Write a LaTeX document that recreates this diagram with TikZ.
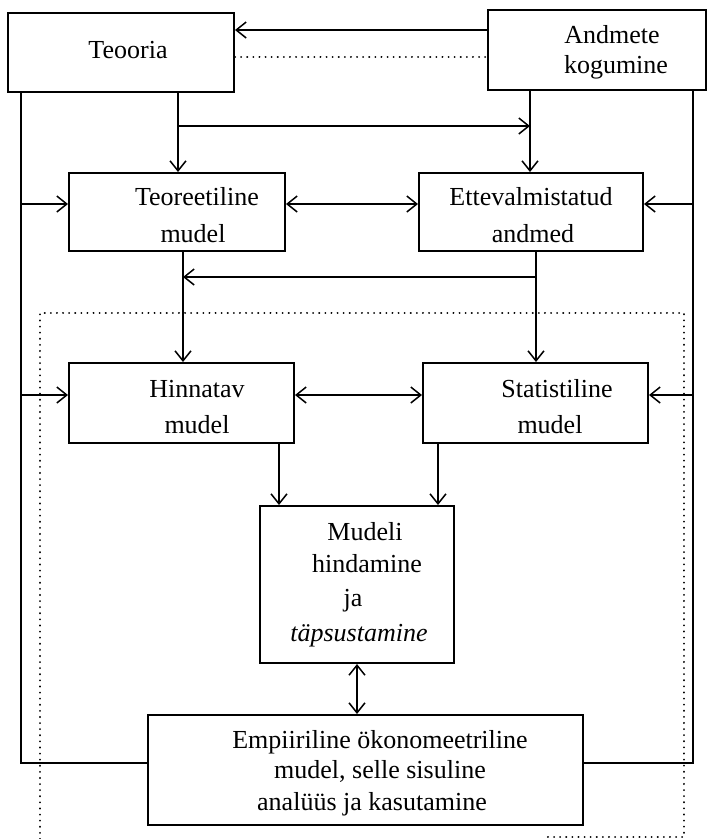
\documentclass[tikz,border=0pt]{standalone}
\usepackage{fontspec}
\setmainfont{Liberation Serif}
\usetikzlibrary{arrows.meta}
\begin{document}
\begin{tikzpicture}[x=1pt,y=-1pt,
  box/.style={draw,line width=2pt,rectangle,inner sep=0pt},
  txt/.style={anchor=base,inner sep=0pt,font=\fontsize{26}{31}\selectfont},
  ln/.style={line width=1.9pt},
  tip/.tip={Straight Barb[length=10pt,width=16pt,line width=1.5pt]},
  arr/.style={ln,-tip},
  darr/.style={ln,tip-tip},
  dot/.style={line width=2pt,line cap=round,dash pattern=on 0.1pt off 6pt}]
\useasboundingbox (0,0) rectangle (708,839);

% boxes
\node[box,minimum width=226pt,minimum height=79pt] (teooria) at (121,52.5) {};
\node[box,minimum width=218pt,minimum height=80pt] (andmete) at (597,50) {};
\node[box,minimum width=216pt,minimum height=78pt] (teor) at (177,212) {};
\node[box,minimum width=224pt,minimum height=78pt] (ette) at (531,212) {};
\node[box,minimum width=225pt,minimum height=80pt] (hinn) at (181.5,403) {};
\node[box,minimum width=225pt,minimum height=80pt] (stat) at (535.5,403) {};
\node[box,minimum width=194pt,minimum height=157pt] (mud) at (357,584.5) {};
\node[box,minimum width=435pt,minimum height=110pt] (emp) at (365.5,770) {};

% texts
\node[txt] (t-teooria) at (128,58) {Teooria};
\node[txt] (t-andm1) at (612,43) {Andmete};
\node[txt] (t-andm2) at (616,73) {kogumine};
\node[txt] (t-teor1) at (197,205) {Teoreetiline};
\node[txt] (t-teor2) at (193,242) {mudel};
\node[txt] (t-ette1) at (531,205) {Ettevalmistatud};
\node[txt] (t-ette2) at (533,242) {andmed};
\node[txt] (t-hinn1) at (197,397) {Hinnatav};
\node[txt] (t-hinn2) at (197,433) {mudel};
\node[txt] (t-stat1) at (557,397) {Statistiline};
\node[txt] (t-stat2) at (550,433) {mudel};
\node[txt] (t-mud1) at (365,540) {Mudeli};
\node[txt] (t-mud2) at (367,572) {hindamine};
\node[txt] (t-mud3) at (353,606) {ja};
\node[txt] (t-mud4) at (359,641) {\itshape täpsustamine};
\node[txt] (t-emp1) at (380,748) {Empiiriline ökonomeetriline};
\node[txt] (t-emp2) at (380,778) {mudel, selle sisuline};
\node[txt] (t-emp3) at (372,810) {analüüs ja kasutamine};

% routing levels and columns
\coordinate (yA) at (0,30);
\coordinate (yB) at (0,57);
\coordinate (yC) at (0,126);
\coordinate (yD) at (0,204);
\coordinate (yE) at (0,277);
\coordinate (yF) at (0,395);
\coordinate (yG) at (0,763);
\coordinate (xL) at (21,0);
\coordinate (xR) at (693,0);
\coordinate (xT) at (178,0);
\coordinate (xA) at (530,0);
\coordinate (xH) at (183,0);
\coordinate (xS) at (536,0);
\coordinate (xM1) at (279,0);
\coordinate (xM2) at (438,0);
\coordinate (xM) at (357,0);

% top connections
\draw[arr] (andmete.west |- yA) -- (teooria.east |- yA);
\draw[dot] (teooria.east |- yB) -- (andmete.west |- yB);
\draw[arr] (teooria.south -| xT) -- (teor.north -| xT);
\draw[arr] (xT |- yC) -- (xA |- yC);
\draw[arr] (andmete.south -| xA) -- (ette.north -| xA);

% outer feedback lines
\coordinate (lt) at (teooria.south -| xL);
\coordinate (rt) at (andmete.south -| xR);
\draw[ln] (lt) -- (xL |- yG) -- (emp.west |- yG);
\draw[ln] (rt) -- (xR |- yG) -- (emp.east |- yG);
\draw[arr] (xL |- yD) -- (teor.west |- yD);
\draw[arr] (xL |- yF) -- (hinn.west |- yF);
\draw[arr] (xR |- yD) -- (ette.east |- yD);
\draw[arr] (xR |- yF) -- (stat.east |- yF);

% middle connections
\draw[darr] (teor.east |- yD) -- (ette.west |- yD);
\draw[arr] (teor.south -| xH) -- (hinn.north -| xH);
\draw[arr] (ette.south -| xS) -- (stat.north -| xS);
\draw[arr] (xS |- yE) -- (xH |- yE);
\draw[darr] (hinn.east |- yF) -- (stat.west |- yF);
\draw[arr] (hinn.south -| xM1) -- (mud.north -| xM1);
\draw[arr] (stat.south -| xM2) -- (mud.north -| xM2);
\draw[darr] (mud.south -| xM) -- (emp.north -| xM);

% dotted frame
\coordinate (f1) at (40,313);
\coordinate (f2) at (684,313);
\draw[dot] (40,839) -- (f1) -- (f2) -- (684,837) -- (545,837);
\end{tikzpicture}
\end{document}
